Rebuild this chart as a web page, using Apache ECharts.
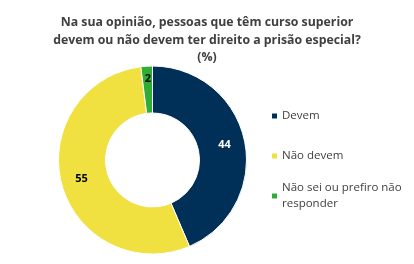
<!DOCTYPE html>
<html><head><meta charset="utf-8">
<script src="https://cdn.jsdelivr.net/npm/echarts@6/dist/echarts.min.js"></script>
<style>html,body{margin:0;padding:0;background:#fff}#c{width:414px;height:264px}</style>
</head><body><div id="c"></div>
<script>
const titleText = 'Na sua opinião, pessoas que têm curso superior\ndevem ou não devem ter direito a prisão especial?\n(%)';
const categories = ['Devem', 'Não devem', 'Não sei ou prefiro não responder'];
const values = [44, 55, 2];
const colors = ['#003057', '#F0E040', '#2EAE35'];
const labelColors = ['#ffffff', '#000000', '#000000'];
const FONT = '"Open Sans", "Noto Sans", sans-serif';

const chart = echarts.init(document.getElementById('c'), null, {renderer: 'canvas'});
chart.setOption({
  animation: false,
  backgroundColor: '#ffffff',
  title: {
    text: titleText,
    left: 'center', top: 9,
    textStyle: {fontFamily: FONT, fontSize: 12.3, fontWeight: 'bold', color: '#404040', lineHeight: 17.5}
  },
  legend: [{
    data: categories.slice(0, 2),
    orient: 'vertical', left: 270, top: 108, padding: 0,
    itemWidth: 7, itemHeight: 7, itemGap: 24, icon: 'rect',
    textStyle: {fontFamily: FONT, fontSize: 11.5, color: '#404040', lineHeight: 16, padding: [0, 0, 0, -1]}
  }, {
    data: [categories[2]],
    orient: 'vertical', left: 270, top: 172, padding: 0,
    itemWidth: 7, itemHeight: 7, icon: 'rect',
    formatter: n => n.replace('não responder', 'não\nresponder'),
    textStyle: {fontFamily: FONT, fontSize: 11.5, color: '#404040', lineHeight: 16, padding: [16, 0, 0, -1]}
  }],
  series: [{
    type: 'pie',
    center: [152.5, 160],
    radius: [47, 94],
    startAngle: 90,
    clockwise: true,
    avoidLabelOverlap: false,
    itemStyle: {borderColor: '#ffffff', borderWidth: 1},
    label: {show: true, position: 'inside', fontFamily: FONT, fontSize: 11, fontWeight: 'bold', formatter: '{c}'},
    labelLine: {show: false},
    emphasis: {disabled: true},
    data: categories.map((n, i) => ({
      name: n, value: values[i],
      itemStyle: {color: colors[i]},
      label: Object.assign({color: labelColors[i]}, i === 2 ? {offset: [0, -8]} : {})
    }))
  }]
});
</script></body></html>
